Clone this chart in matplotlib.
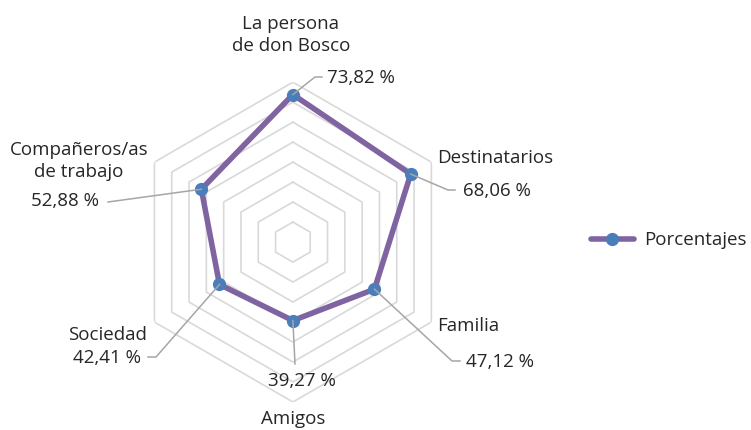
import numpy as np
import matplotlib.pyplot as plt
from matplotlib.lines import Line2D

# ── Data ─────────────────────────────────────────────────────────────────────
categories = ["La persona\nde don Bosco", "Destinatarios", "Familia",
              "Amigos", "Sociedad", "Compañeros/as\nde trabajo"]
values = [73.82, 68.06, 47.12, 39.27, 42.41, 52.88]
value_labels = ["73,82 %", "68,06 %", "47,12 %", "39,27 %", "42,41 %", "52,88 %"]
ring_levels = [10, 20, 30, 40, 50, 60, 70, 80]
series_name = "Porcentajes"

LINE_C = "#8064a2"
MARK_C = "#4a7ebb"
GRID_C = "#d9d9d9"
LEAD_C = "#a6a6a6"
TEXT_C = "#262626"
FONT = "Open Sans"

W, H = 751, 431
fig = plt.figure(figsize=(W / 100, H / 100), dpi=100)
ax = fig.add_axes([0.177, 0.065, 0.426, 0.742], projection="polar")
ax.set_theta_offset(np.pi / 2)
ax.set_theta_direction(-1)
ax.set_ylim(0, 80)
ax.grid(False)
ax.spines["polar"].set_visible(False)
ax.set_xticks([])
ax.set_yticks([])
ax.patch.set_alpha(0)

n = len(categories)
theta = np.arange(n) * 2 * np.pi / n
theta_closed = np.append(theta, theta[0])

# hexagonal grid rings
for lvl in ring_levels:
    ax.plot(theta_closed, [lvl] * (n + 1), color=GRID_C, lw=1.2, zorder=1)

vals_closed = values + values[:1]
ax.plot(theta_closed, vals_closed, color=LINE_C, lw=4.0, zorder=3)
ax.plot(theta, values, "o", color=MARK_C, ms=8.5, zorder=4)

# ── Labels (pixel positions, top-based y) ────────────────────────────────────
tk = dict(fontsize=13.5, color=TEXT_C, family=FONT, linespacing=1.3)


def ptext(x, y, s, ha="left", va="center"):
    fig.text(x / W, 1 - y / H, s, ha=ha, va=va, **tk)


# category names
ptext(291, 35, categories[0], ha="center", va="center")
ptext(437, 158, categories[1])
ptext(437, 326, categories[2])
ptext(293, 419, categories[3], ha="center")
ptext(147, 335, categories[4], ha="right")
ptext(79, 161, categories[5], ha="center")

# value labels with leader lines: (elbow x, elbow y, end x, text x, ha)
leaders = [
    (315, 78, 322, 327, "left"),
    (448, 191, 455, 463, "left"),
    (452, 362, 460, 466, "left"),
    (295, 365, 295, 302, "center"),
    (156, 358, 148, 141, "right"),
    (200, 203, 108, 99, "right"),
]

fig.canvas.draw()
for i, (ex, ey, hx, tx, ha) in enumerate(leaders):
    px, py = ax.transData.transform((theta[i], values[i]))
    py_top = H - py
    if i == 3:
        xs, ys = [px, ex], [py_top, ey]
        ptext(tx, 381, value_labels[i], ha="center")
    elif i == 5:
        xs, ys = [px, hx], [py_top, ey]
        ptext(tx, 201, value_labels[i], ha="right")
    else:
        xs, ys = [px, ex, hx], [py_top, ey, ey]
        ptext(tx, ey, value_labels[i], ha=ha)
    fig.add_artist(Line2D([x / W for x in xs], [1 - y / H for y in ys],
                          transform=fig.transFigure, color=LEAD_C, lw=1.1,
                          zorder=2))

# legend
fig.add_artist(Line2D([591 / W, 634 / W], [1 - 240 / H] * 2,
                      transform=fig.transFigure, color=LINE_C, lw=4.0,
                      solid_capstyle="round"))
fig.add_artist(Line2D([612 / W], [1 - 240 / H], transform=fig.transFigure,
                      marker="o", color=MARK_C, ms=8.5, lw=0))
ptext(644, 240, series_name)

fig.savefig("out.png", dpi=100)
